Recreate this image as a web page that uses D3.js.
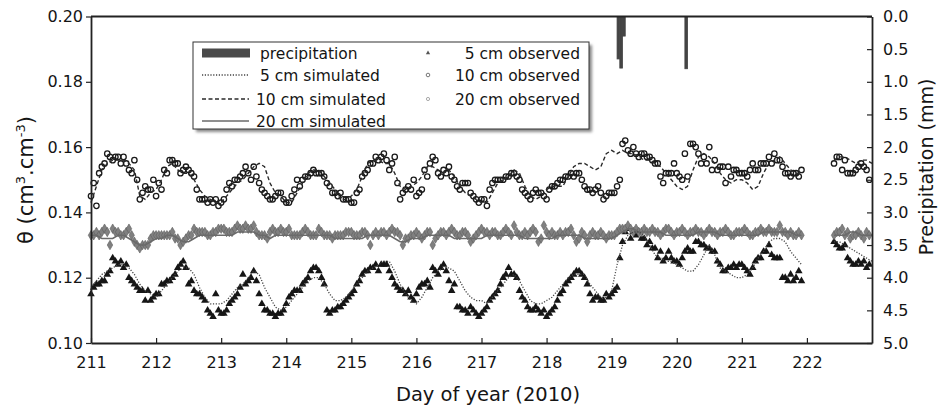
<!DOCTYPE html>
<html>
<head>
<meta charset="utf-8">
<script src="https://cdn.jsdelivr.net/npm/d3@7"></script>
<style>
  body { margin: 0; background: #fff; }
  svg text { font-family: "DejaVu Sans", sans-serif; fill: #151515; }
  .axis path, .axis line { stroke: #222; }
</style>
</head>
<body>
<svg id="chart"></svg>
<script>
// ---- data ----
const startDay = 211;          // first sample, day of year 2010
const lateStartHour = 274;     // samples resume after the logger gap

const dayTicks = [211, 212, 213, 214, 215, 216, 217, 218, 219, 220, 221, 222];
const thetaTicks = [0.10, 0.12, 0.14, 0.16, 0.18, 0.20];
const rainTicks = [0, 0.5, 1, 1.5, 2, 2.5, 3, 3.5, 4, 4.5, 5];

// hourly precipitation (mm)
const rainDays = [219.083, 219.125, 219.167, 220.125];
const rainMm = [0.65, 0.79, 0.30, 0.80];

// observed theta, hourly from day 211.0
const obs10 = [
  0.145,0.149,0.142,0.152,0.154,0.155,0.158,0.157,0.156,0.157,0.157,0.155,0.157,0.155,0.153,0.152,0.156,0.150,0.144,0.146,0.148,0.147,0.147,0.150,
  0.145,0.149,0.147,0.153,0.152,0.156,0.156,0.155,0.155,0.152,0.153,0.154,0.153,0.152,0.151,0.147,0.144,0.144,0.144,0.143,0.144,0.143,0.144,0.142,
  0.143,0.144,0.147,0.149,0.148,0.150,0.150,0.151,0.152,0.154,0.152,0.150,0.154,0.151,0.149,0.147,0.146,0.145,0.144,0.144,0.145,0.146,0.146,0.144,
  0.143,0.143,0.145,0.147,0.150,0.148,0.150,0.151,0.151,0.152,0.153,0.152,0.152,0.152,0.151,0.149,0.148,0.146,0.146,0.145,0.146,0.144,0.144,0.144,
  0.143,0.143,0.146,0.147,0.151,0.152,0.153,0.155,0.155,0.157,0.156,0.157,0.158,0.156,0.153,0.155,0.157,0.149,0.144,0.146,0.147,0.148,0.147,0.150,
  0.145,0.146,0.147,0.153,0.151,0.155,0.157,0.156,0.152,0.151,0.153,0.152,0.154,0.151,0.150,0.148,0.147,0.149,0.149,0.149,0.146,0.145,0.144,0.143,
  0.144,0.144,0.142,0.147,0.149,0.150,0.150,0.150,0.150,0.151,0.151,0.152,0.152,0.151,0.150,0.147,0.146,0.145,0.144,0.146,0.147,0.146,0.146,0.145,
  0.144,0.147,0.148,0.148,0.149,0.150,0.150,0.151,0.151,0.152,0.151,0.152,0.152,0.150,0.148,0.147,0.147,0.146,0.147,0.148,0.146,0.144,0.145,0.146,
  0.146,0.146,0.148,0.150,0.161,0.162,0.159,0.158,0.160,0.158,0.157,0.158,0.158,0.157,0.157,0.156,0.155,0.155,0.151,0.149,0.152,0.152,0.152,0.155,
  0.152,0.151,0.150,0.158,0.151,0.161,0.161,0.160,0.158,0.155,0.157,0.155,0.160,0.153,0.156,0.153,0.154,0.154,0.149,0.154,0.151,0.153,0.153,0.152,
  0.152,0.152,0.151,0.153,0.155,0.153,0.153,0.155,0.155,0.155,0.157,0.155,0.158,0.156,0.156,0.154,0.152,0.152,0.151,0.152,0.152,0.151,0.153
];
const obs10Late = [0.155,0.157,0.157,0.153,0.156,0.152,0.152,0.152,0.153,0.154,0.155,0.154,0.153,0.150];

const obs20 = [
  0.133,0.133,0.134,0.133,0.134,0.135,0.134,0.130,0.135,0.134,0.134,0.133,0.133,0.134,0.135,0.133,0.131,0.130,0.129,0.130,0.130,0.130,0.132,0.133,
  0.133,0.133,0.133,0.133,0.133,0.133,0.134,0.132,0.132,0.130,0.131,0.132,0.133,0.133,0.135,0.134,0.134,0.134,0.134,0.133,0.133,0.134,0.134,0.135,
  0.135,0.135,0.134,0.134,0.134,0.135,0.136,0.135,0.135,0.136,0.135,0.135,0.136,0.134,0.133,0.133,0.133,0.132,0.134,0.135,0.134,0.134,0.135,0.134,
  0.134,0.135,0.133,0.133,0.133,0.133,0.134,0.135,0.134,0.133,0.133,0.133,0.135,0.134,0.133,0.133,0.133,0.132,0.133,0.133,0.133,0.133,0.134,0.134,
  0.134,0.133,0.133,0.133,0.134,0.134,0.133,0.130,0.133,0.134,0.133,0.134,0.134,0.133,0.134,0.135,0.134,0.134,0.133,0.130,0.132,0.132,0.133,0.133,
  0.134,0.133,0.132,0.133,0.134,0.134,0.130,0.132,0.133,0.134,0.134,0.133,0.134,0.135,0.134,0.133,0.133,0.134,0.134,0.133,0.131,0.132,0.133,0.134,
  0.135,0.134,0.134,0.133,0.134,0.134,0.133,0.133,0.134,0.135,0.134,0.133,0.136,0.134,0.133,0.133,0.134,0.133,0.134,0.135,0.134,0.131,0.132,0.136,
  0.134,0.133,0.134,0.133,0.133,0.134,0.133,0.134,0.134,0.135,0.133,0.131,0.132,0.134,0.133,0.131,0.133,0.134,0.133,0.133,0.134,0.133,0.132,0.133,
  0.133,0.133,0.134,0.135,0.135,0.135,0.136,0.135,0.134,0.135,0.134,0.134,0.135,0.134,0.134,0.135,0.134,0.134,0.133,0.134,0.135,0.135,0.134,0.133,
  0.134,0.134,0.135,0.134,0.133,0.134,0.134,0.135,0.134,0.134,0.133,0.134,0.135,0.134,0.134,0.133,0.134,0.134,0.135,0.134,0.133,0.133,0.134,0.134,
  0.134,0.135,0.134,0.133,0.133,0.134,0.134,0.135,0.134,0.134,0.135,0.134,0.134,0.134,0.136,0.134,0.134,0.133,0.134,0.133,0.133,0.134,0.133
];
const obs20Late = [0.133,0.134,0.134,0.135,0.133,0.134,0.132,0.133,0.133,0.134,0.133,0.132,0.134,0.133];

const obs5 = [
  0.115,0.117,0.118,0.118,0.119,0.119,0.121,0.122,0.126,0.125,0.124,0.125,0.123,0.124,0.120,0.119,0.118,0.117,0.116,0.116,0.113,0.116,0.113,0.114,
  0.115,0.115,0.118,0.118,0.119,0.119,0.120,0.121,0.123,0.124,0.125,0.123,0.118,0.119,0.116,0.115,0.115,0.114,0.113,0.110,0.109,0.108,0.115,0.110,
  0.109,0.109,0.110,0.112,0.113,0.114,0.115,0.117,0.121,0.118,0.119,0.120,0.122,0.119,0.115,0.112,0.110,0.110,0.109,0.109,0.108,0.109,0.109,0.110,
  0.112,0.114,0.115,0.116,0.116,0.116,0.118,0.119,0.120,0.122,0.123,0.123,0.122,0.120,0.118,0.110,0.109,0.110,0.110,0.111,0.111,0.112,0.113,0.114,
  0.115,0.116,0.118,0.119,0.121,0.122,0.122,0.123,0.123,0.124,0.122,0.124,0.124,0.124,0.122,0.120,0.118,0.117,0.116,0.116,0.115,0.116,0.114,0.113,
  0.115,0.117,0.118,0.118,0.119,0.117,0.123,0.122,0.121,0.123,0.124,0.122,0.119,0.116,0.118,0.111,0.111,0.110,0.110,0.109,0.111,0.110,0.109,0.108,
  0.109,0.110,0.111,0.113,0.114,0.115,0.116,0.118,0.120,0.121,0.123,0.121,0.121,0.120,0.116,0.114,0.113,0.111,0.110,0.110,0.111,0.110,0.109,0.110,
  0.108,0.109,0.110,0.111,0.113,0.115,0.116,0.118,0.119,0.120,0.121,0.122,0.122,0.121,0.120,0.118,0.115,0.113,0.114,0.114,0.113,0.113,0.115,0.114,
  0.115,0.116,0.117,0.126,0.131,0.134,0.135,0.132,0.134,0.133,0.134,0.132,0.132,0.130,0.131,0.129,0.129,0.126,0.128,0.125,0.126,0.128,0.126,0.125,
  0.125,0.124,0.126,0.128,0.129,0.128,0.128,0.131,0.131,0.130,0.130,0.129,0.129,0.128,0.128,0.125,0.124,0.122,0.122,0.123,0.123,0.124,0.123,0.124,
  0.124,0.123,0.122,0.121,0.123,0.125,0.126,0.126,0.128,0.128,0.130,0.127,0.126,0.126,0.126,0.120,0.120,0.119,0.121,0.119,0.120,0.122,0.119
];
const obs5Late = [0.131,0.130,0.129,0.129,0.130,0.126,0.125,0.124,0.124,0.125,0.124,0.125,0.123,0.124];

// simulated theta, every 2 hours from day 211.0
const sim10 = [
  0.143,0.148,0.153,0.155,0.156,0.156,0.156,0.155,0.153,0.145,0.144,0.146,
  0.147,0.150,0.154,0.155,0.153,0.152,0.152,0.150,0.147,0.145,0.144,0.143,
  0.143,0.145,0.147,0.149,0.150,0.152,0.154,0.155,0.154,0.149,0.146,0.145,
  0.143,0.143,0.146,0.149,0.152,0.153,0.153,0.151,0.149,0.147,0.144,0.144,
  0.145,0.147,0.151,0.155,0.156,0.156,0.155,0.155,0.152,0.148,0.147,0.148,
  0.149,0.151,0.154,0.154,0.153,0.152,0.153,0.151,0.148,0.146,0.145,0.144,
  0.143,0.143,0.146,0.149,0.150,0.151,0.153,0.152,0.148,0.145,0.144,0.145,
  0.147,0.148,0.148,0.148,0.151,0.154,0.155,0.155,0.154,0.153,0.154,0.158,
  0.159,0.158,0.159,0.158,0.158,0.157,0.156,0.156,0.155,0.154,0.152,0.150,
  0.148,0.147,0.148,0.153,0.157,0.158,0.157,0.155,0.152,0.150,0.149,0.150,
  0.150,0.149,0.147,0.148,0.152,0.155,0.156,0.157,0.155,0.153,0.152,0.152
];
const sim10Late = [0.156,0.157,0.157,0.156,0.155,0.156,0.156,0.155];

const sim5 = [
  0.117,0.119,0.121,0.122,0.123,0.124,0.124,0.123,0.121,0.118,0.116,0.115,
  0.114,0.116,0.118,0.120,0.122,0.123,0.123,0.121,0.117,0.114,0.112,0.112,
  0.112,0.113,0.115,0.117,0.118,0.120,0.122,0.121,0.117,0.114,0.111,0.110,
  0.111,0.113,0.115,0.117,0.119,0.120,0.120,0.118,0.115,0.113,0.113,0.114,
  0.116,0.118,0.120,0.122,0.123,0.124,0.125,0.125,0.122,0.118,0.115,0.113,
  0.112,0.114,0.117,0.120,0.122,0.123,0.123,0.122,0.119,0.116,0.114,0.113,
  0.113,0.112,0.114,0.116,0.118,0.120,0.121,0.119,0.116,0.113,0.112,0.112,
  0.113,0.114,0.116,0.118,0.120,0.121,0.121,0.121,0.118,0.116,0.114,0.114,
  0.116,0.124,0.130,0.133,0.134,0.134,0.133,0.130,0.127,0.126,0.125,0.125,
  0.124,0.123,0.122,0.122,0.124,0.127,0.130,0.127,0.123,0.122,0.121,0.120,
  0.120,0.121,0.123,0.126,0.128,0.131,0.132,0.132,0.131,0.128,0.126,0.124
];
const sim5Late = [0.131,0.131,0.130,0.129,0.128,0.127,0.126,0.125];

const sim20 = [
  0.133,0.133,0.132,0.132,0.132,0.133,0.133,0.132,0.131,0.130,0.130,0.131,
  0.132,0.132,0.133,0.133,0.132,0.131,0.131,0.132,0.133,0.133,0.133,0.133,
  0.133,0.133,0.133,0.134,0.134,0.134,0.134,0.133,0.133,0.132,0.133,0.133,
  0.133,0.133,0.133,0.133,0.133,0.133,0.133,0.133,0.133,0.132,0.132,0.132,
  0.132,0.132,0.132,0.133,0.133,0.133,0.133,0.133,0.132,0.131,0.131,0.132,
  0.132,0.132,0.133,0.133,0.133,0.133,0.133,0.132,0.132,0.132,0.132,0.132,
  0.132,0.133,0.133,0.133,0.133,0.133,0.133,0.133,0.132,0.132,0.132,0.132,
  0.132,0.132,0.133,0.133,0.133,0.133,0.133,0.132,0.132,0.132,0.132,0.132,
  0.132,0.133,0.134,0.135,0.135,0.134,0.134,0.134,0.134,0.134,0.133,0.133,
  0.133,0.133,0.133,0.133,0.134,0.134,0.134,0.134,0.133,0.133,0.133,0.133,
  0.133,0.133,0.133,0.133,0.134,0.134,0.134,0.134,0.134,0.134,0.133,0.133
];
const sim20Late = [0.133,0.133,0.133,0.134,0.134,0.133,0.133,0.133];

const legendLeft = ['precipitation', '5 cm simulated', '10 cm simulated', '20 cm simulated'];
const legendRight = ['5 cm observed', '10 cm observed', '20 cm observed'];

// turn a run of samples into {day, value} points
function toPoints(values, startHour, stepHours) {
  return values.map((v, i) => ({ day: startDay + (startHour + i * stepHours) / 24, value: v }));
}

class MoistureChart {
  constructor(_config) {
    this.config = {
      parentElement: _config.parentElement,
      containerWidth: 938,
      containerHeight: 408,
      margin: { top: 16.5, bottom: 65, right: 66, left: 91 }
    };
    this.initVis();
  }

  initVis() {
    let vis = this;
    vis.width = vis.config.containerWidth - vis.config.margin.left - vis.config.margin.right;
    vis.height = vis.config.containerHeight - vis.config.margin.top - vis.config.margin.bottom;

    vis.svg = d3.select(vis.config.parentElement)
      .attr('width', vis.config.containerWidth)
      .attr('height', vis.config.containerHeight);

    vis.chart = vis.svg.append('g')
      .attr('transform', `translate(${vis.config.margin.left},${vis.config.margin.top})`);

    vis.xScale = d3.scaleLinear().domain([211, 223]).range([0, vis.width]);
    vis.yScale = d3.scaleLinear().domain([0.10, 0.20]).range([vis.height, 0]);
    vis.rainScale = d3.scaleLinear().domain([0, 5]).range([0, vis.height]);

    vis.xAxis = d3.axisBottom(vis.xScale).tickValues(dayTicks).tickFormat(d3.format('d'))
      .tickSizeInner(-5).tickSizeOuter(0).tickPadding(14);
    vis.yAxis = d3.axisLeft(vis.yScale).tickValues(thetaTicks).tickFormat(d3.format('.2f'))
      .tickSizeInner(5).tickSizeOuter(0).tickPadding(3);
    vis.rainAxis = d3.axisRight(vis.rainScale).tickValues(rainTicks).tickFormat(d3.format('.1f'))
      .tickSizeInner(-5).tickSizeOuter(0).tickPadding(11);

    vis.line = d3.line().x(d => vis.xScale(d.day)).y(d => vis.yScale(d.value));
  }

  updateVis() {
    let vis = this;
    vis.rain = rainDays.map((d, i) => ({ day: d, mm: rainMm[i] }));
    vis.obs = [
      { key: '5', pts: toPoints(obs5, 0, 1).concat(toPoints(obs5Late, lateStartHour, 1)) },
      { key: '20', pts: toPoints(obs20, 0, 1).concat(toPoints(obs20Late, lateStartHour, 1)) },
      { key: '10', pts: toPoints(obs10, 0, 1).concat(toPoints(obs10Late, lateStartHour, 1)) }
    ];
    vis.sims = [
      { key: '20', dash: null, color: '#6a6a6a', w: 1.6, runs: [toPoints(sim20, 0, 2), toPoints(sim20Late, lateStartHour, 2)] },
      { key: '5', dash: '1.2,1.6', color: '#444', w: 1.3, runs: [toPoints(sim5, 0, 2), toPoints(sim5Late, lateStartHour, 2)] },
      { key: '10', dash: '4,2.5', color: '#2a2a2a', w: 1.4, runs: [toPoints(sim10, 0, 2), toPoints(sim10Late, lateStartHour, 2)] }
    ];
    vis.renderVis();
  }

  renderVis() {
    let vis = this;
    const hourW = vis.xScale(startDay + 1 / 24) - vis.xScale(startDay);

    // precipitation bars hang from the top frame
    vis.chart.selectAll('.rain')
      .data(vis.rain)
      .join('rect')
        .attr('class', 'rain')
        .attr('x', d => vis.xScale(d.day))
        .attr('y', 0)
        .attr('width', hourW)
        .attr('height', d => vis.rainScale(d.mm))
        .attr('fill', '#444')
        .attr('stroke', '#444')
        .attr('stroke-width', 0.8);

    // observed markers
    const tri = d3.symbol().type(d3.symbolTriangle).size(25);
    const dia = d3.symbol().type(d3.symbolDiamond).size(26);

    vis.chart.selectAll('.obs5')
      .data(vis.obs[0].pts)
      .join('path')
        .attr('class', 'obs5')
        .attr('d', tri)
        .attr('transform', d => `translate(${vis.xScale(d.day)},${vis.yScale(d.value)})`)
        .attr('fill', '#161616');

    vis.chart.selectAll('.obs20')
      .data(vis.obs[1].pts)
      .join('path')
        .attr('class', 'obs20')
        .attr('d', dia)
        .attr('transform', d => `translate(${vis.xScale(d.day)},${vis.yScale(d.value)})`)
        .attr('fill', '#808080')
        .attr('stroke', '#5e5e5e')
        .attr('stroke-width', 0.6);

    vis.chart.selectAll('.obs10')
      .data(vis.obs[2].pts)
      .join('circle')
        .attr('class', 'obs10')
        .attr('cx', d => vis.xScale(d.day))
        .attr('cy', d => vis.yScale(d.value))
        .attr('r', 2.7)
        .attr('fill', 'none')
        .attr('stroke', '#1a1a1a')
        .attr('stroke-width', 1.3);

    // simulated lines
    vis.sims.forEach(s => {
      vis.chart.selectAll(`.sim${s.key}`)
        .data(s.runs)
        .join('path')
          .attr('class', `sim${s.key}`)
          .attr('d', vis.line)
          .attr('fill', 'none')
          .attr('stroke', s.color)
          .attr('stroke-width', s.w)
          .attr('stroke-dasharray', s.dash);
    });

    // frame + axes
    vis.chart.append('line')
      .attr('x1', 0).attr('x2', vis.width).attr('y1', 0).attr('y2', 0)
      .attr('stroke', '#222').attr('stroke-width', 1.8);

    vis.xAxisG = vis.chart.append('g').attr('class', 'axis')
      .attr('transform', `translate(0,${vis.height})`).call(vis.xAxis);
    vis.yAxisG = vis.chart.append('g').attr('class', 'axis').call(vis.yAxis);
    vis.rainAxisG = vis.chart.append('g').attr('class', 'axis')
      .attr('transform', `translate(${vis.width},0)`).call(vis.rainAxis);

    vis.chart.selectAll('.axis path').attr('stroke-width', 1.8);
    vis.chart.selectAll('.axis line').attr('stroke-width', 1.2);
    vis.chart.selectAll('.axis text').attr('font-size', 16).attr('fill', '#151515');

    // axis titles
    vis.svg.append('text')
      .attr('x', 488).attr('y', 401)
      .attr('text-anchor', 'middle').attr('font-size', 19.5)
      .text('Day of year (2010)');

    const yt = vis.svg.append('text')
      .attr('transform', 'translate(33,180) rotate(-90)')
      .attr('text-anchor', 'middle').attr('font-size', 21);
    yt.append('tspan').text('θ (cm');
    yt.append('tspan').attr('font-size', 13).attr('dy', -8).text('3');
    yt.append('tspan').attr('dy', 8).text('.cm');
    yt.append('tspan').attr('font-size', 13).attr('dy', -8).text('-3');
    yt.append('tspan').attr('dy', 8).text(')');

    vis.svg.append('text')
      .attr('transform', 'translate(933,167) rotate(-90)')
      .attr('text-anchor', 'middle').attr('font-size', 19)
      .text('Precipitation (mm)');

    vis.renderLegend();
  }

  renderLegend() {
    let vis = this;
    const defs = vis.svg.append('defs');
    defs.append('filter').attr('id', 'shadow')
      .attr('x', '-10%').attr('y', '-10%').attr('width', '130%').attr('height', '140%')
      .append('feGaussianBlur').attr('stdDeviation', 1.8);

    const lg = vis.svg.append('g').attr('transform', 'translate(193,42)');
    lg.append('rect').attr('x', 3).attr('y', 3).attr('width', 396).attr('height', 87)
      .attr('fill', '#8a8a8a').attr('filter', 'url(#shadow)');
    lg.append('rect').attr('width', 396).attr('height', 87)
      .attr('fill', '#fff').attr('stroke', '#333').attr('stroke-width', 1);

    const rowY = [11, 33, 57, 79];
    lg.selectAll('.lt').data(legendLeft).join('text')
      .attr('class', 'lt')
      .attr('x', (d, i) => i < 2 ? 67 : 63).attr('y', (d, i) => rowY[i] + 5.5)
      .attr('font-size', 15.5)
      .text(d => d);

    lg.append('rect').attr('x', 9).attr('y', rowY[0] - 4.5).attr('width', 48).attr('height', 9).attr('fill', '#4a4a4a');
    const sw = [vis.sims[1], vis.sims[2], vis.sims[0]];
    sw.forEach((s, i) => {
      lg.append('line').attr('x1', 9).attr('x2', 56)
        .attr('y1', rowY[i + 1]).attr('y2', rowY[i + 1])
        .attr('stroke', s.color).attr('stroke-width', s.w)
        .attr('stroke-dasharray', s.dash);
    });

    lg.selectAll('.rt').data(legendRight).join('text')
      .attr('class', 'rt')
      .attr('x', 387).attr('y', (d, i) => rowY[i] + 5.5)
      .attr('text-anchor', 'end')
      .attr('font-size', 15.5)
      .text(d => d);

    lg.append('path').attr('d', d3.symbol().type(d3.symbolTriangle).size(8))
      .attr('transform', `translate(235,${rowY[0]})`).attr('fill', '#555');
    lg.append('circle').attr('cx', 235).attr('cy', rowY[1]).attr('r', 1.8)
      .attr('fill', 'none').attr('stroke', '#777').attr('stroke-width', 1);
    lg.append('circle').attr('cx', 235).attr('cy', rowY[2]).attr('r', 1.6)
      .attr('fill', 'none').attr('stroke', '#aaa').attr('stroke-width', 1);
  }
}

const chart = new MoistureChart({ parentElement: '#chart' });
chart.updateVis();
</script>
</body>
</html>
